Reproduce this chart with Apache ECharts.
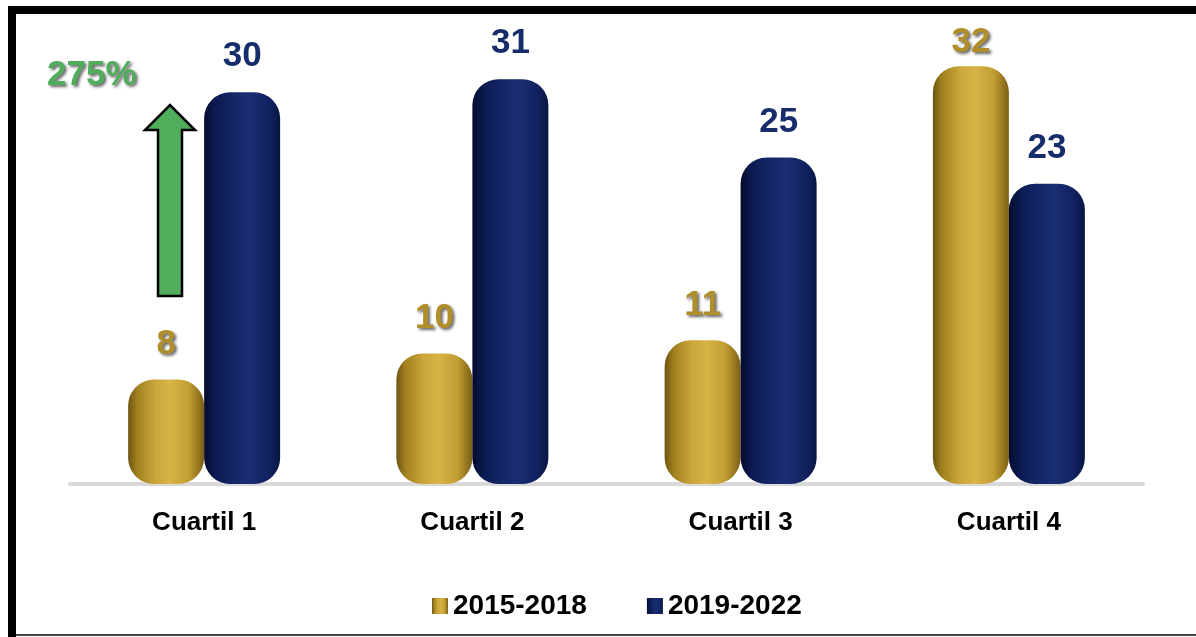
<!DOCTYPE html>
<html>
<head>
<meta charset="utf-8">
<script src="https://cdn.jsdelivr.net/npm/echarts@6/dist/echarts.min.js"></script>
<style>
html,body{margin:0;padding:0;background:#fff;}
#chart{width:1196px;height:637px;}
</style>
</head>
<body>
<div id="chart"></div>
<script>
const categories = ['Cuartil 1', 'Cuartil 2', 'Cuartil 3', 'Cuartil 4'];
const seriesNames = ['2015-2018', '2019-2022'];
const values2015 = [8, 10, 11, 32];
const values2019 = [30, 31, 25, 23];
const annotationText = '275%';

const chart = echarts.init(document.getElementById('chart'));

const goldGrad = new echarts.graphic.LinearGradient(0, 0, 1, 0, [
  {offset: 0, color: '#6e5512'},
  {offset: 0.12, color: '#a0801f'},
  {offset: 0.35, color: '#c9a53a'},
  {offset: 0.55, color: '#d8b447'},
  {offset: 0.8, color: '#c29e33'},
  {offset: 1, color: '#7a5e15'}
]);
const blueGrad = new echarts.graphic.LinearGradient(0, 0, 1, 0, [
  {offset: 0, color: '#040c2c'},
  {offset: 0.15, color: '#0b1b52'},
  {offset: 0.45, color: '#16296b'},
  {offset: 0.6, color: '#1a2e72'},
  {offset: 0.85, color: '#112261'},
  {offset: 1, color: '#081643'}
]);

const font = 'Liberation Sans, Arial, sans-serif';
const yMax = 35;

// labels near the top of the plot are pushed closer to the bar (as in the reference)
function withLabelFit(values) {
  return values.map(v => v > 31.5 ? {value: v, label: {distance: 6}} : v);
}

chart.setOption({
  animation: false,
  backgroundColor: '#ffffff',
  grid: {left: 70, right: 53, top: 27, bottom: 153},
  legend: {
    data: seriesNames,
    left: 427,
    top: 587,
    itemWidth: 16,
    itemHeight: 16,
    itemGap: 60,
    icon: 'rect',
    textStyle: {fontFamily: font, fontWeight: 'bold', fontSize: 28, color: '#000'}
  },
  xAxis: {
    type: 'category',
    data: categories,
    axisLine: {show: true, lineStyle: {color: '#d9d9d9', width: 4}},
    axisTick: {show: false},
    axisLabel: {fontFamily: font, fontWeight: 'bold', fontSize: 26, color: '#000', margin: 26}
  },
  yAxis: {
    type: 'value', min: 0, max: yMax, show: false,
    splitLine: {show: false}
  },
  series: [
    {
      name: seriesNames[0],
      type: 'bar',
      data: withLabelFit(values2015),
      barWidth: 76,
      barGap: '0%',
      itemStyle: {color: goldGrad, borderRadius: 26},
      label: {
        show: true, position: 'top', distance: 18,
        fontFamily: font, fontWeight: 'bold', fontSize: 35, color: '#b08e2a',
        textShadowColor: 'rgba(0,0,0,0.6)', textShadowBlur: 3, textShadowOffsetX: 2, textShadowOffsetY: 2
      }
    },
    {
      name: seriesNames[1],
      type: 'bar',
      data: withLabelFit(values2019),
      barWidth: 76,
      barGap: '0%',
      itemStyle: {color: blueGrad, borderRadius: 26},
      label: {
        show: true, position: 'top', distance: 18,
        fontFamily: font, fontWeight: 'bold', fontSize: 35, color: '#172c6b'
      }
    }
  ],
  graphic: [
    {type: 'rect', shape: {x: 8, y: 6, width: 1200, height: 8}, style: {fill: '#000'}},
    {type: 'rect', shape: {x: 8, y: 6, width: 8, height: 640}, style: {fill: '#000'}},
    {type: 'rect', shape: {x: 16, y: 634, width: 1180, height: 2}, style: {fill: '#444'}},
    {
      type: 'polygon',
      shape: {points: [[158, 296], [182, 296], [182, 130], [195, 130], [170, 105], [145, 130], [158, 130]]},
      style: {fill: '#4fad5b', stroke: '#000', lineWidth: 2.5}
    },
    {
      type: 'text', left: 47, top: 58,
      style: {
        text: annotationText, fontFamily: font, fontWeight: 'bold', fontSize: 35, fill: '#4fad5b',
        textShadowColor: 'rgba(0,0,0,0.6)', textShadowBlur: 3, textShadowOffsetX: 2, textShadowOffsetY: 2
      }
    }
  ]
});
</script>
</body>
</html>
